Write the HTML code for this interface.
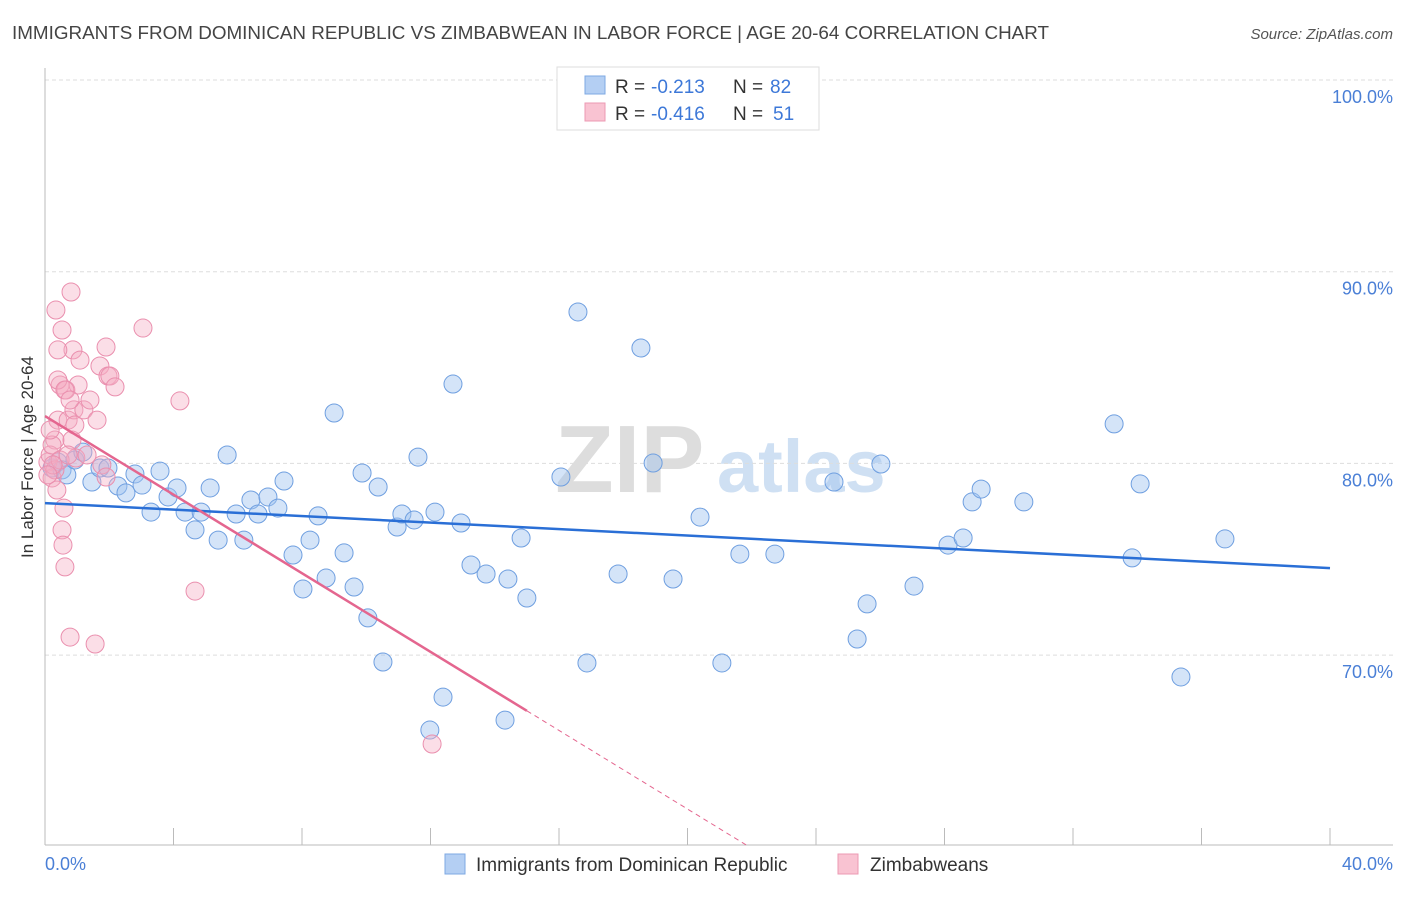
<!DOCTYPE html>
<html><head><meta charset="utf-8"><style>
body{margin:0;background:#fff;font-family:"Liberation Sans",sans-serif}
svg text{font-family:"Liberation Sans",sans-serif}
</style></head><body>
<svg id="chart" width="1406" height="892">
<text x="12" y="39" font-size="18" fill="#444" textLength="1037" lengthAdjust="spacingAndGlyphs">IMMIGRANTS FROM DOMINICAN REPUBLIC VS ZIMBABWEAN IN LABOR FORCE | AGE 20-64 CORRELATION CHART</text>
<text x="1393" y="39" font-size="15" fill="#555" font-style="italic" text-anchor="end">Source: ZipAtlas.com</text>
<g>
<text x="555" y="492" font-size="96" font-family="Liberation Serif" fill="#ddd" font-weight="bold">ZIP</text>
<text x="717" y="492" font-size="74" fill="#cfe0f3" font-weight="bold">atlas</text>
</g>
<g id="grid"></g>
<line x1="45" y1="68" x2="45" y2="845" stroke="#bbb"/>
<line x1="45" y1="845" x2="1393" y2="845" stroke="#bbb"/>
<text x="33" y="457" font-size="17" fill="#333" text-anchor="middle" transform="rotate(-90 33 457)">In Labor Force | Age 20-64</text>
<text x="45" y="870" font-size="18" fill="#4a7fd6">0.0%</text>
<text x="1393" y="870" font-size="18" fill="#4a7fd6" text-anchor="end">40.0%</text>
<g id="pts"></g>
<g id="lines"></g>
<g>
<rect x="557" y="67" width="262" height="63" fill="#fff" stroke="#ddd"/>
<rect x="585" y="76" width="20" height="18" fill="#b4cff3" stroke="#7ea8e3"/>
<rect x="585" y="103" width="20" height="18" fill="#f9c3d2" stroke="#ec9ab3"/>
<g font-size="19">
<text x="615" y="93" fill="#333">R =</text><text x="651" y="93" fill="#3d78d8">-0.213</text>
<text x="733" y="93" fill="#333">N =</text><text x="770" y="93" fill="#3d78d8">82</text></g>
<g font-size="19">
<text x="615" y="120" fill="#333">R =</text><text x="651" y="120" fill="#3d78d8">-0.416</text>
<text x="733" y="120" fill="#333">N =</text><text x="773" y="120" fill="#3d78d8">51</text></g>
</g>
<g>
<rect x="445" y="854" width="20" height="20" fill="#b4cff3" stroke="#7ea8e3"/>
<text x="476" y="871" font-size="19" fill="#333">Immigrants from Dominican Republic</text>
<rect x="838" y="854" width="20" height="20" fill="#f9c3d2" stroke="#ec9ab3"/>
<text x="870" y="871" font-size="19" fill="#333">Zimbabweans</text>
</g>
</svg>
<script>
const yTicks=[100,90,80,70];
const xTickVals=[0,4,8,12,16,20,24,28,32,36,40];
const blueX=[0.22,0.40,0.53,0.68,0.93,1.18,1.46,1.71,1.96,2.27,2.52,2.80,3.02,3.30,3.58,3.83,4.11,4.36,4.67,4.86,5.14,5.39,5.67,5.95,6.19,6.41,6.63,6.94,7.25,7.44,7.72,8.03,8.25,8.50,8.75,9.00,9.31,9.62,9.87,10.05,10.37,10.52,10.96,11.11,11.49,11.61,11.98,12.14,12.39,12.70,12.95,13.26,13.73,14.32,14.41,14.82,15.00,16.06,16.59,16.87,17.84,18.55,18.93,19.55,20.39,21.07,21.63,22.72,24.56,25.28,25.59,26.02,27.05,28.11,28.58,28.86,29.14,30.47,33.28,33.84,34.09,35.36,36.73];
const blueY=[79.76,80.07,79.66,79.40,80.18,80.59,79.03,79.76,79.76,78.82,78.46,79.45,78.87,77.46,79.60,78.25,78.72,77.46,76.53,77.46,78.72,76.00,80.44,77.36,76.00,78.09,77.36,78.25,77.67,79.08,75.22,73.45,76.00,77.26,74.02,82.63,75.33,73.55,79.50,71.94,78.77,69.64,76.68,77.36,77.05,80.33,66.09,77.46,67.81,84.14,76.89,74.70,74.23,66.61,73.97,76.11,72.98,79.29,87.90,69.59,74.23,86.02,80.02,73.97,77.20,69.59,75.27,75.27,79.03,70.84,72.67,79.97,73.60,75.74,76.11,77.99,78.66,77.99,82.06,75.07,78.93,68.86,76.06];
const pinkX=[0.09,0.22,0.31,0.34,0.37,0.40,0.47,0.53,0.53,0.56,0.59,0.62,0.65,0.72,0.78,0.81,0.84,0.87,0.90,0.93,0.96,1.03,1.09,1.21,1.31,1.56,1.62,1.71,1.77,1.90,1.90,1.96,2.02,2.18,3.05,4.20,4.67,12.05,0.16,0.22,0.31,0.40,0.62,0.78,0.47,0.16,0.25,0.09,0.72,1.40,0.40];
const pinkY=[80.07,79.24,81.22,88.00,78.61,82.26,84.09,86.96,76.53,75.74,77.67,74.60,83.83,82.26,70.94,88.94,81.22,85.92,82.79,82.00,80.28,84.09,85.39,82.79,80.44,70.58,82.26,85.08,79.92,79.29,86.07,84.56,84.56,83.99,87.06,83.26,73.34,65.36,80.44,80.96,79.66,84.35,83.83,83.31,80.18,81.74,79.92,79.40,80.44,83.31,85.92];
const blueTrend=[77.93,74.54];
const pinkTrend=[82.47,-1.025];
const pinkSolidEnd=15;
const NS='http://www.w3.org/2000/svg';
const X=v=>45+v*(1330-45)/40;
const Y=v=>80+(100-v)*19.17;
function mk(t,a,p){const e=document.createElementNS(NS,t);for(const k in a)e.setAttribute(k,a[k]);p.appendChild(e);return e;}
const grid=document.getElementById('grid');
yTicks.forEach(t=>{
 const l=mk('line',{x1:45,x2:1393,y1:Y(t),y2:Y(t),stroke:'#ddd','stroke-dasharray':'4,3'},grid);
 
 
 const tx=mk('text',{x:1393,y:Y(t)+23,'font-size':18,fill:'#4a7fd6','text-anchor':'end'},grid);
 tx.textContent=t.toFixed(1)+'%';
 
 
});
xTickVals.forEach(t=>{
 const l=mk('line',{x1:X(t),x2:X(t),y1:828,y2:845,stroke:'#bbb'},grid);
 
 
});
const pts=document.getElementById('pts');
blueX.forEach((v,i)=>{
 const c=mk('circle',{cx:X(v),cy:Y(blueY[i]),r:9,fill:'rgba(160,196,240,0.45)',stroke:'#6f9fe0','stroke-width':1},pts);
 
 
});
pinkX.forEach((v,i)=>{
 const c=mk('circle',{cx:X(v),cy:Y(pinkY[i]),r:9,fill:'rgba(246,172,194,0.4)',stroke:'#ea8fae','stroke-width':1},pts);
 
 
});
const lines=document.getElementById('lines');
const bl=mk('line',{x1:X(0),y1:Y(blueTrend[0]),x2:X(40),y2:Y(blueTrend[1]),stroke:'#2a6fd6','stroke-width':2.5},lines);


const pf=x=>pinkTrend[0]+pinkTrend[1]*x;
const pl=mk('line',{x1:X(0),y1:Y(pf(0)),x2:X(pinkSolidEnd),y2:Y(pf(pinkSolidEnd)),stroke:'#e4668f','stroke-width':2.5},lines);


const xEnd=(60.1-pinkTrend[0])/pinkTrend[1];
const pd=mk('line',{x1:X(pinkSolidEnd),y1:Y(pf(pinkSolidEnd)),x2:X(xEnd),y2:Y(pf(xEnd)),stroke:'#e4668f','stroke-width':1,'stroke-dasharray':'5,4'},lines);


</script>
</body></html>
